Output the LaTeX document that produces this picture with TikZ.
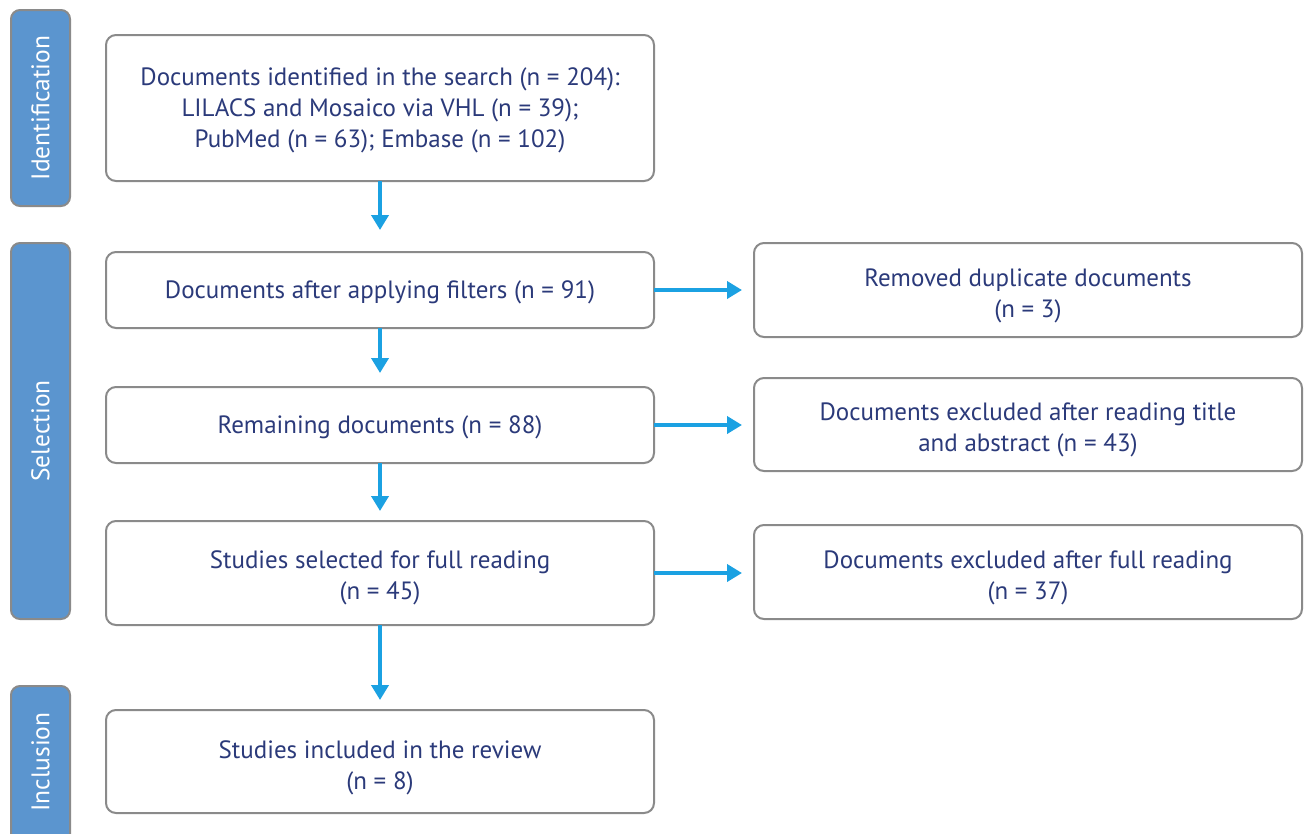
\documentclass[tikz,border=0pt]{standalone}
\usepackage{fontspec}
\setmainfont{PT Sans}
\usetikzlibrary{arrows.meta}
\definecolor{navy}{HTML}{2B3A7A}
\definecolor{barblue}{HTML}{5B95CF}
\definecolor{arrblue}{HTML}{1BA1E2}
\definecolor{boxgray}{HTML}{8A8A8A}
\tikzset{
  stage/.style={draw=boxgray, line width=2pt, fill=barblue, rounded corners=9pt},
  stagetext/.style={rotate=90, text=white, font=\fontsize{25.5}{30}\selectfont},
  flowbox/.style={draw=boxgray, line width=2pt, rounded corners=10pt, fill=white},
  flowtext/.style={text=navy, align=center, font=\fontsize{25}{31}\selectfont},
  flowarrow/.style={draw=arrblue, line width=4pt, -{Triangle[width=17pt,length=15pt]}}
}
\begin{document}
\begin{tikzpicture}[x=1pt,y=-1pt]
\clip (0,0) rectangle (1304,833);
\fill[white] (0,0) rectangle (1304,833);
% stage bars
\draw[stage] (11,10) rectangle (70,206);
\node[stagetext] (sid) at (40.5,108) {Identification};
\draw[stage] (11,243) rectangle (70,619);
\node[stagetext] (ssel) at (40.5,431) {Selection};
\draw[stage] (11,686) rectangle (70,860);
\node[stagetext] (sinc) at (40.5,762) {Inclusion};
% main boxes
\draw[flowbox] (106,35) rectangle (654,181);
\node[flowtext] (b1) at (380,110) {Documents identified in the search (n = 204):\\LILACS and Mosaico via VHL (n = 39);\\PubMed (n = 63); Embase (n = 102)};
\coordinate (b1s) at (380,181);
\draw[flowbox] (106,252) rectangle (654,328);
\node[flowtext] (b2) at (380,292) {Documents after applying filters (n = 91)};
\coordinate (b2n) at (380,252); \coordinate (b2s) at (380,328); \coordinate (b2e) at (654,290);
\draw[flowbox] (106,387) rectangle (654,463);
\node[flowtext] (b3) at (380,427) {Remaining documents (n = 88)};
\coordinate (b3n) at (380,387); \coordinate (b3s) at (380,463); \coordinate (b3e) at (654,425);
\draw[flowbox] (106,521) rectangle (654,625);
\node[flowtext] (b4) at (380,578) {Studies selected for full reading\\(n = 45)};
\coordinate (b4n) at (380,521); \coordinate (b4s) at (380,625); \coordinate (b4e) at (654,573);
\draw[flowbox] (106,710) rectangle (654,813);
\node[flowtext] (b5) at (380,768) {Studies included in the review\\(n = 8)};
\coordinate (b5n) at (380,710);
% right boxes
\draw[flowbox] (754,243) rectangle (1302,337);
\node[flowtext] (r1) at (1028,296) {Removed duplicate documents\\(n = 3)};
\coordinate (r1w) at (754,290);
\draw[flowbox] (754,378) rectangle (1302,471);
\node[flowtext] (r2) at (1028,430) {Documents excluded after reading title\\and abstract (n = 43)};
\coordinate (r2w) at (754,425);
\draw[flowbox] (754,525) rectangle (1302,619);
\node[flowtext] (r3) at (1028,578) {Documents excluded after full reading\\(n = 37)};
\coordinate (r3w) at (754,573);
% arrows
\draw[flowarrow] (b1s) -- ([yshift=22pt]b2n);
\draw[flowarrow] (b2s) -- ([yshift=14pt]b3n);
\draw[flowarrow] (b3s) -- ([yshift=10pt]b4n);
\draw[flowarrow] (b4s) -- ([yshift=10pt]b5n);
\draw[flowarrow] (b2e) -- ([xshift=-12pt]r1w);
\draw[flowarrow] (b3e) -- ([xshift=-12pt]r2w);
\draw[flowarrow] (b4e) -- ([xshift=-12pt]r3w);
\end{tikzpicture}
\end{document}
